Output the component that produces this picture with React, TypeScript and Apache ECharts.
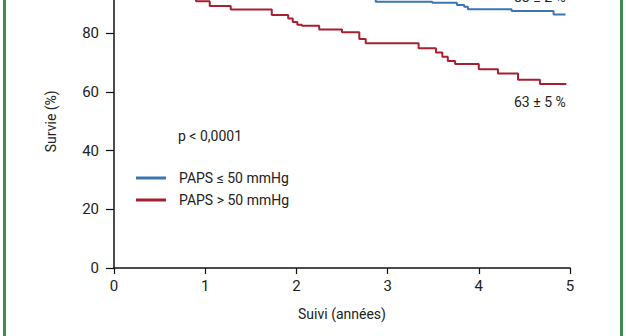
import React, { useEffect, useRef } from "react";
import * as echarts from "echarts";

// Kaplan-Meier steps: [years, survival %] (value after each drop)
const lowPapsYears = [0, 0.6, 1.3, 2.0, 2.5, 2.87, 3.49, 3.76, 3.84, 3.88, 4.36, 4.82, 4.95];
const lowPapsSurvival = [100, 98, 96, 94, 92, 90.7, 90.4, 89.6, 89.0, 88.2, 87.6, 86.4, 86.4];

const highPapsYears = [0, 0.3, 0.6, 0.9, 1.05, 1.28, 1.73, 1.91, 1.96, 2.01, 2.06, 2.25, 2.5, 2.69, 2.76, 3.34, 3.53, 3.6, 3.66, 3.74, 4.0, 4.21, 4.43, 4.67, 4.96];
const highPapsSurvival = [100, 97, 94, 90.9, 89.3, 88.1, 86.2, 85.0, 83.8, 82.9, 82.5, 81.3, 80.3, 78.0, 76.6, 74.9, 73.4, 72.0, 70.5, 69.5, 67.7, 66.3, 64.1, 62.7, 62.7];

const seriesNames = ["PAPS ≤ 50 mmHg", "PAPS > 50 mmHg"];
const endLabels = ["88 ± 2 %", "63 ± 5 %"];
const pValueText = "p < 0,0001";
const xTicks = [0, 1, 2, 3, 4, 5];
const yTicks = [0, 20, 40, 60, 80, 100];

const FONT = "Roboto, 'DejaVu Sans', sans-serif";
const BLUE = "#3a77b0";
const RED = "#a82030";
const TEXT = "#222";
const SHIFT = 36; // the original figure is cropped at the top

export default function App() {
  const ref = useRef<HTMLDivElement>(null);
  useEffect(() => {
    if (!ref.current) return;
    const chart = echarts.init(ref.current, undefined, { renderer: "svg" });
    const zip = (xs: number[], ys: number[]) => xs.map((x, i) => [x, ys[i]]);
    chart.setOption({
      animation: false,
      backgroundColor: "#ffffff",
      textStyle: { fontFamily: FONT },
      grid: { left: 114, right: 56, top: 10.5, bottom: 68 },
      xAxis: {
        type: "value",
        min: xTicks[0],
        max: xTicks[xTicks.length - 1],
        interval: 1,
        name: "Suivi (années)",
        nameLocation: "middle",
        nameGap: 39,
        nameTextStyle: { fontSize: 14, color: TEXT, fontFamily: FONT },
        axisLine: { lineStyle: { color: "#111", width: 1.5 } },
        axisTick: { length: 6, lineStyle: { color: "#111", width: 1.2 } },
        axisLabel: { fontSize: 15, color: TEXT, margin: 10, fontFamily: FONT },
        splitLine: { show: false },
      },
      yAxis: {
        type: "value",
        min: yTicks[0],
        max: yTicks[yTicks.length - 1],
        interval: 20,
        name: "Survie (%)",
        nameLocation: "middle",
        nameGap: 56,
        nameTextStyle: { fontSize: 14, color: TEXT, fontFamily: FONT },
        axisLine: { show: true, lineStyle: { color: "#111", width: 1.5 } },
        axisTick: { show: true, length: 8, lineStyle: { color: "#111", width: 1.2 } },
        axisLabel: { fontSize: 15, color: TEXT, margin: 15, fontFamily: FONT },
        splitLine: { show: false },
      },
      legend: {
        orient: "vertical",
        left: 131,
        top: 166 + SHIFT,
        itemWidth: 30,
        itemHeight: 3,
        itemGap: 8,
        icon: "rect",
        textStyle: { fontSize: 14, color: TEXT, fontFamily: FONT, padding: [0, 0, 0, 8] },
        data: seriesNames,
      },
      series: [
        {
          name: seriesNames[0],
          type: "line",
          step: "end",
          symbol: "none",
          lineStyle: { color: BLUE, width: 2 },
          itemStyle: { color: BLUE },
          data: zip(lowPapsYears, lowPapsSurvival),
        },
        {
          name: seriesNames[1],
          type: "line",
          step: "end",
          symbol: "none",
          lineStyle: { color: RED, width: 2 },
          itemStyle: { color: RED },
          data: zip(highPapsYears, highPapsSurvival),
        },
      ],
      graphic: [
        {
          type: "text",
          left: 178,
          top: 129 + SHIFT,
          style: { text: pValueText, fontSize: 14, fill: TEXT, fontFamily: FONT },
        },
        {
          type: "text",
          left: 514,
          top: -10 + SHIFT,
          style: { text: endLabels[0], fontSize: 14, fill: TEXT, fontFamily: FONT },
        },
        {
          type: "text",
          left: 514,
          top: 95 + SHIFT,
          style: { text: endLabels[1], fontSize: 14, fill: TEXT, fontFamily: FONT },
        },
      ],
    });
    return () => chart.dispose();
  }, []);
  return (
    <div
      style={{
        position: "fixed",
        left: 0,
        top: 0,
        width: 626,
        height: 336,
        background: "#fff",
        overflow: "hidden",
      }}
    >
      <div ref={ref} style={{ width: 626, height: 336 + SHIFT, marginTop: -SHIFT }} />
      <div style={{ position: "absolute", left: 3, top: 0, width: 2.5, height: 336, background: "#3f8c50" }} />
      <div style={{ position: "absolute", left: 620, top: 0, width: 2.5, height: 336, background: "#3f8c50" }} />
    </div>
  );
}
